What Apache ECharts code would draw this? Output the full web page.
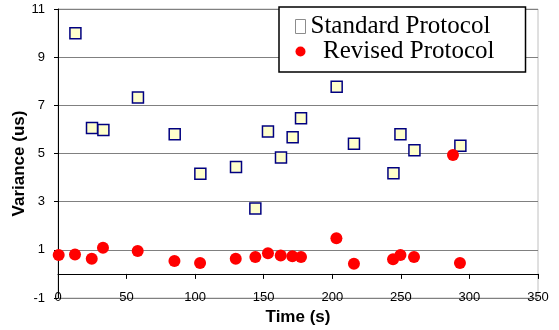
<!DOCTYPE html>
<html>
<head>
<meta charset="utf-8">
<script src="https://cdn.jsdelivr.net/npm/echarts@6/dist/echarts.min.js"></script>
<style>
  html, body { margin: 0; padding: 0; background: #fff; }
  #chart { width: 559px; height: 330px; }
</style>
</head>
<body>
<div id="chart"></div>
<script>
// values
const standardTime = [12.7, 24.8, 33.1, 58.3, 85.1, 103.8, 129.8, 143.9, 153.1, 162.6, 171.1, 177.2, 203.2, 215.8, 244.6, 249.7, 259.9, 293.4];
const standardVar  = [9.99, 6.06, 5.98, 7.33, 5.80, 4.16, 4.44, 2.72, 5.91, 4.83, 5.67, 6.46, 7.77, 5.41, 4.18, 5.80, 5.13, 5.32];

const revisedTime = [0.5, 12.4, 24.6, 32.8, 58.1, 84.9, 103.6, 129.6, 143.9, 153.1, 162.4, 170.9, 177.2, 203.0, 215.8, 244.3, 249.7, 259.6, 288.0, 293.1];
const revisedVar  = [0.79, 0.81, 0.63, 1.09, 0.95, 0.54, 0.45, 0.63, 0.70, 0.86, 0.76, 0.73, 0.70, 1.48, 0.42, 0.61, 0.79, 0.70, 4.94, 0.45];

const xTicks = { min: 0, max: 350, step: 50 };
const yTicks = { min: -1, max: 11, step: 2 };

const sans = 'Liberation Sans, Arial, sans-serif';
const serif = 'Liberation Serif, Times New Roman, serif';

const chart = echarts.init(document.getElementById('chart'), null, { renderer: 'canvas' });

chart.setOption({
  backgroundColor: '#fff',
  animation: false,
  grid: {
    left: 58,
    right: 21,
    top: 9,
    bottom: 32,
    outerBoundsMode: 'none',
    containLabel: false,
    show: true,
    borderColor: '#c0c0c0',
    borderWidth: 1,
  },
  legend: {
    orient: 'vertical',
    left: 279,
    top: 7,
    padding: [7, 31, 8, 16],
    itemGap: 0,
    itemWidth: 10,
    itemHeight: 14,
    itemTextGap: 12,
    backgroundColor: '#fff',
    borderColor: '#000',
    borderWidth: 1.5,
    textStyle: { fontFamily: serif, fontSize: 25, color: '#000', lineHeight: 24 },
    formatter: (name) => (name === 'Revised Protocol' ? '  ' + name : name),
    data: [
      { name: 'Standard Protocol', icon: 'rect', itemStyle: { color: '#fff', borderColor: '#8c8c8c', borderWidth: 1 } },
      { name: 'Revised Protocol', icon: 'circle', itemStyle: { color: '#ff0000', borderWidth: 0 } },
    ],
  },
  xAxis: [
    {
      // line through y = 0 with the tick marks
      type: 'value',
      min: xTicks.min,
      max: xTicks.max,
      interval: xTicks.step,
      position: 'bottom',
      axisLine: { show: true, onZero: true, lineStyle: { color: '#000', width: 1 } },
      axisTick: { show: true, length: 5, lineStyle: { color: '#000' } },
      axisLabel: { show: false },
      splitLine: { show: false },
    },
    {
      // labels sitting on the -1 gridline
      type: 'value',
      min: xTicks.min,
      max: xTicks.max,
      interval: xTicks.step,
      position: 'bottom',
      axisLine: { show: false, onZero: false },
      axisTick: { show: false },
      axisLabel: { margin: -7, fontFamily: sans, fontSize: 13, color: '#000' },
      splitLine: { show: false },
      name: 'Time (s)',
      nameLocation: 'middle',
      nameGap: 11,
      nameMoveOverlap: false,
      nameTextStyle: { fontFamily: sans, fontSize: 17, fontWeight: 'bold', color: '#000' },
    },
  ],
  yAxis: {
    type: 'value',
    min: yTicks.min,
    max: yTicks.max,
    interval: yTicks.step,
    axisLine: { show: true, lineStyle: { color: '#000', width: 1 } },
    axisTick: { show: true, length: 4, lineStyle: { color: '#000' } },
    axisLabel: { margin: 13, fontFamily: sans, fontSize: 13, color: '#000' },
    splitLine: { lineStyle: { color: '#808080', width: 1 } },
    name: 'Variance (us)',
    nameLocation: 'middle',
    nameGap: 30,
    nameMoveOverlap: false,
    nameTextStyle: { fontFamily: sans, fontSize: 17, fontWeight: 'bold', color: '#000', padding: [0, 20, 0, 0] },
  },
  series: [
    {
      name: 'Standard Protocol',
      type: 'scatter',
      xAxisIndex: 0,
      data: standardTime.map((t, i) => [t, standardVar[i]]),
      symbol: 'rect',
      symbolSize: 11,
      itemStyle: { color: '#ffffcc', borderColor: '#000080', borderWidth: 1.5, opacity: 1 },
    },
    {
      name: 'Revised Protocol',
      type: 'scatter',
      xAxisIndex: 0,
      data: revisedTime.map((t, i) => [t, revisedVar[i]]),
      symbol: 'circle',
      symbolSize: 12,
      itemStyle: { color: '#ff0000', opacity: 1 },
    },
  ],
});
</script>
</body>
</html>
